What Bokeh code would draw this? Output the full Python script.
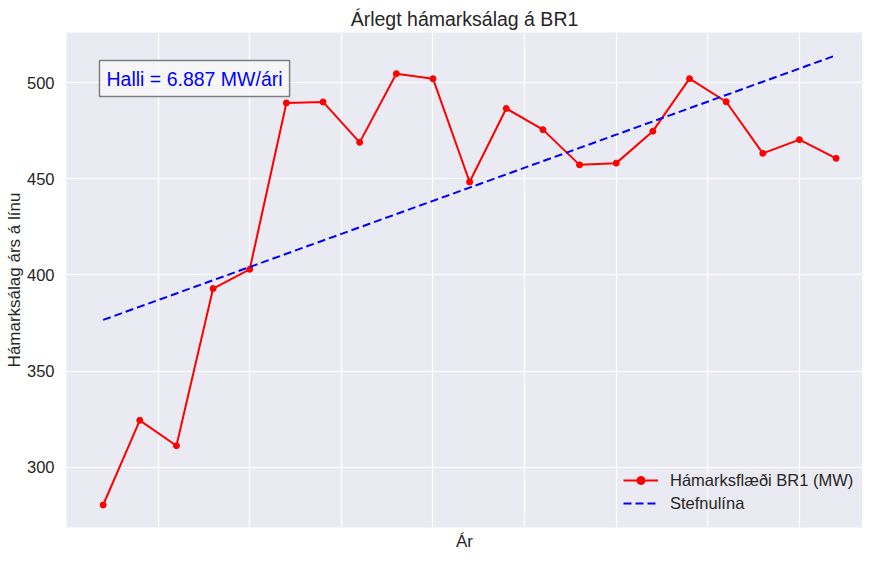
import numpy as np
from bokeh.plotting import figure
from bokeh.models import FixedTicker, Label, Legend, LegendItem, Range1d, Title
from bokeh.embed import file_html
from bokeh.resources import INLINE

years = list(range(2001, 2022))
peak_mw = [280.4, 324.4, 311.2, 392.9, 402.9, 489.4, 489.9, 468.9, 504.6, 502.0,
           448.3, 486.5, 475.5, 457.2, 458.1, 474.7, 502.0, 490.0, 463.2, 470.3, 460.6]
x_ticks = [2002.5, 2005, 2007.5, 2010, 2012.5, 2015, 2017.5, 2020]
y_ticks = [300, 350, 400, 450, 500]
slope_text = "Halli = 6.887 MW/ári"

coef = np.polyfit(years, peak_mw, 1)
trend = list(np.polyval(coef, years))

FONT = "Liberation Sans"
TXT = "#262626"
Y0, Y1 = 268.7, 526.0
X0, X1 = 2000.0, 2021.72

p = figure(width=862, height=553, output_backend="svg", toolbar_location=None,
           x_range=Range1d(X0, X1), y_range=Range1d(Y0, Y1),
           min_border_left=66, min_border_right=0, min_border_top=32, min_border_bottom=26)

p.background_fill_color = "#EAEAF2"
p.border_fill_color = "white"
p.outline_line_color = None

p.title.text = "Árlegt hámarksálag á BR1"
p.title.align = "center"
p.title.text_font = FONT
p.title.text_font_size = "19.5px"
p.title.text_font_style = "normal"
p.title.text_color = TXT
p.title.standoff = 6

p.xaxis.visible = False
p.xgrid.ticker = FixedTicker(ticks=x_ticks)
p.yaxis.ticker = FixedTicker(ticks=y_ticks)
ax = p.yaxis[0]
ax.axis_line_color = None
ax.major_tick_line_color = None
ax.minor_tick_line_color = None
ax.major_label_text_font = FONT
ax.major_label_text_color = TXT
ax.major_label_text_font_size = "16.5px"
ax.major_label_standoff = 6
ax.axis_label = "Hámarksálag árs á línu"
ax.axis_label_text_font = FONT
ax.axis_label_text_font_style = "normal"
ax.axis_label_text_color = TXT
ax.axis_label_text_font_size = "17px"
ax.axis_label_standoff = 0

p.grid.grid_line_color = "white"
p.grid.grid_line_width = 1.2

l1 = p.line(years, peak_mw, line_color="red", line_width=2)
s1 = p.scatter(years, peak_mw, size=6, fill_color="red", line_color="red")
l2 = p.line(years, trend, line_color="blue", line_width=2, line_dash="8 4")

legend = Legend(items=[LegendItem(label="Hámarksflæði BR1 (MW)", renderers=[l1, s1]),
                       LegendItem(label="Stefnulína", renderers=[l2])],
                location=(557, 14), background_fill_alpha=0, border_line_color=None,
                label_text_font=FONT, label_text_font_size="16.5px", label_text_color=TXT,
                glyph_width=35, label_standoff=12, spacing=3, margin=0, padding=4)
p.add_layout(legend)

lab = Label(x=2000.90, y=511.4, text=slope_text, text_font=FONT, text_font_size="19.5px",
            text_color="blue", text_align="left", text_baseline="top",
            background_fill_color="white", background_fill_alpha=0.55,
            border_line_color="#7f7f7f", border_line_width=1.5, padding=7)
p.add_layout(lab)

p.add_layout(Title(text="Ár", align="center", text_font=FONT, text_font_size="17px",
                   text_font_style="normal", text_color=TXT, standoff=4), "below")

open("out.html", "w").write(file_html(p, INLINE))
